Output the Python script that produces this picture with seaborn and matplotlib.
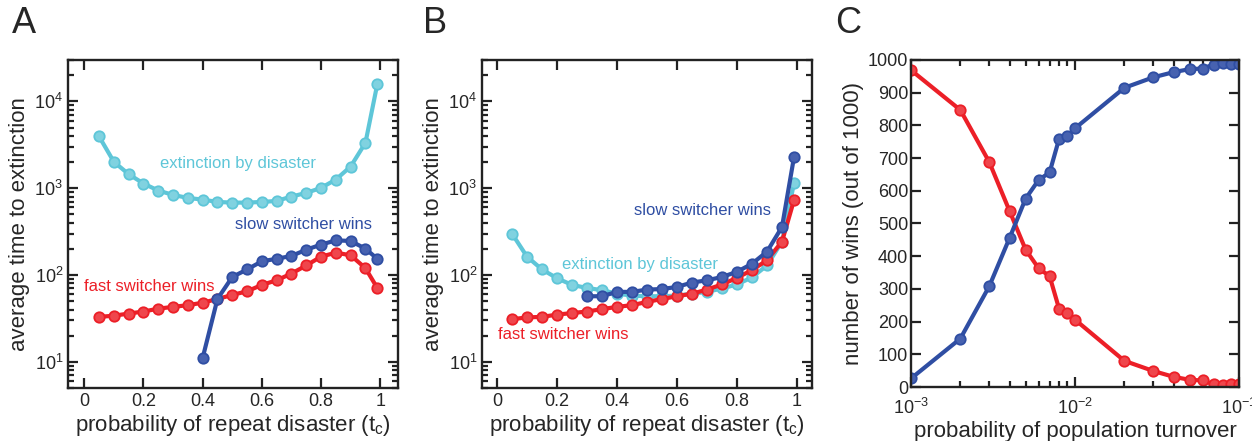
import pandas as pd
import seaborn as sns
import matplotlib.pyplot as plt
import numpy as np
from matplotlib.ticker import LogLocator, NullFormatter, MultipleLocator

# probability of repeat disaster (panel A and B share the x grid)
tc = [0.05, 0.1, 0.15, 0.2, 0.25, 0.3, 0.35, 0.4, 0.45, 0.5,
      0.55, 0.6, 0.65, 0.7, 0.75, 0.8, 0.85, 0.9, 0.95, 0.99]

# panel A
a_disaster = [3945, 2013, 1452, 1133, 940, 838, 773, 740, 695, 683,
              683, 695, 714, 802, 884, 1009, 1259, 1778, 3335, 15800]
a_fast = [33, 34, 36, 38, 41, 43, 45, 48, 53, 59,
          65, 77, 87, 104, 129, 163, 181, 169, 120, 71]
a_slow_tc = [0.4, 0.45, 0.5, 0.55, 0.6, 0.65, 0.7, 0.75, 0.8, 0.85, 0.9, 0.95, 0.99]
a_slow = [11.1, 53, 95, 116, 144, 154, 166, 196, 224, 251, 247, 201, 154]

# panel B
b_disaster = [300, 163, 116, 92, 77, 71, 67, 61, 58, 57,
              57, 58, 61, 64, 70, 78, 94, 129, 243, 1143]
b_fast = [31, 32.5, 33, 35, 36.5, 38, 40.5, 43, 45, 49,
          53, 57, 61, 68, 78, 93, 114, 148, 243, 728]
b_slow_tc = [0.3, 0.35, 0.4, 0.45, 0.5, 0.55, 0.6, 0.65, 0.7, 0.75, 0.8, 0.85, 0.9, 0.95, 0.99]
b_slow = [57, 57, 64, 64, 68, 69, 73, 82, 87, 95, 109, 135, 186, 358, 2280]

# panel C
turnover = [0.001, 0.002, 0.003, 0.004, 0.005, 0.006, 0.007, 0.008, 0.009, 0.01,
            0.02, 0.03, 0.04, 0.05, 0.06, 0.07, 0.08, 0.09, 0.1]
c_slow = [26, 148, 308, 457, 576, 633, 656, 759, 769, 791,
          915, 947, 963, 972, 974, 986, 990, 988, 987]
c_fast = [969, 847, 688, 537, 420, 363, 339, 239, 227, 206,
          80, 49, 31, 22, 20, 8, 7, 10, 10]

CYAN = "#5ec6d8"
BLUE = "#2f4ea3"
RED = "#ec1f27"
LIGHT = {CYAN: "#80d2e0", BLUE: "#4762b0", RED: "#ef464c"}

sns.set_style("ticks")
plt.rcParams['font.family'] = ['Liberation Sans', 'DejaVu Sans']
plt.rcParams['mathtext.fontset'] = 'custom'
plt.rcParams['mathtext.rm'] = 'Liberation Sans'
plt.rcParams['mathtext.it'] = 'Liberation Sans'

LABEL_SIZE = 16
TICK_SIZE = 13
NOTE_SIZE = 12


def draw(ax, x, y, color):
    df = pd.DataFrame({"x": x, "y": y})
    sns.lineplot(data=df, x="x", y="y", ax=ax, color=color, linewidth=3,
                 marker="o", markersize=7.5, markeredgewidth=1.3,
                 markeredgecolor=color, markerfacecolor=LIGHT[color])


def style_axes(ax):
    for s in ax.spines.values():
        s.set_linewidth(1.7)
        s.set_color("#222222")
    ax.tick_params(which="both", direction="in", top=True, right=True,
                   labelsize=TICK_SIZE, width=1.6, color="#222222")
    ax.tick_params(which="major", length=7)
    ax.tick_params(which="minor", length=4)


fig = plt.figure(figsize=(12.52, 4.41), dpi=100)
axA = fig.add_axes([68 / 1252, 1 - 388 / 441, 330 / 1252, 328 / 441])
axB = fig.add_axes([482 / 1252, 1 - 388 / 441, 330 / 1252, 328 / 441])
axC = fig.add_axes([911 / 1252, 1 - 387 / 441, 328 / 1252, 327 / 441])

# panel A
draw(axA, tc, a_disaster, CYAN)
draw(axA, tc, a_fast, RED)
draw(axA, a_slow_tc, a_slow, BLUE)
axA.text(0.52, 1950, "extinction by disaster", color=CYAN, fontsize=NOTE_SIZE, ha="center", va="center")
axA.text(0.74, 380, "slow switcher wins", color=BLUE, fontsize=NOTE_SIZE, ha="center", va="center")
axA.text(0.22, 73, "fast switcher wins", color=RED, fontsize=NOTE_SIZE, ha="center", va="center")
axA.set_xlim(-0.055, 1.06)

# panel B
draw(axB, tc, b_disaster, CYAN)
draw(axB, tc, b_fast, RED)
draw(axB, b_slow_tc, b_slow, BLUE)
axB.text(0.685, 550, "slow switcher wins", color=BLUE, fontsize=NOTE_SIZE, ha="center", va="center")
axB.text(0.475, 134, "extinction by disaster", color=CYAN, fontsize=NOTE_SIZE, ha="center", va="center")
axB.text(0.22, 20.7, "fast switcher wins", color=RED, fontsize=NOTE_SIZE, ha="center", va="center")
axB.set_xlim(-0.05, 1.05)

for ax in (axA, axB):
    ax.set_yscale("log")
    ax.set_ylim(5, 3e4)
    ax.set_xticks([0, 0.2, 0.4, 0.6, 0.8, 1])
    ax.set_xticklabels(["0", "0.2", "0.4", "0.6", "0.8", "1"])
    ax.yaxis.set_major_locator(LogLocator(base=10, numticks=10))
    ax.yaxis.set_minor_locator(LogLocator(base=10, subs=np.arange(2, 10), numticks=10))
    ax.yaxis.set_minor_formatter(NullFormatter())
    ax.set_xlabel(r"probability of repeat disaster (t$_\mathregular{c}$)", fontsize=LABEL_SIZE, labelpad=2)
    ax.set_ylabel("average time to extinction", fontsize=LABEL_SIZE, labelpad=3)
    style_axes(ax)

# panel C
draw(axC, turnover, c_fast, RED)
draw(axC, turnover, c_slow, BLUE)
axC.set_xscale("log")
axC.set_xlim(1e-3, 1e-1)
axC.set_ylim(0, 1000)
axC.yaxis.set_major_locator(MultipleLocator(100))
axC.xaxis.set_minor_locator(LogLocator(base=10, subs=np.arange(2, 10), numticks=10))
axC.xaxis.set_minor_formatter(NullFormatter())
axC.set_xlabel("probability of population turnover", fontsize=LABEL_SIZE, labelpad=2)
axC.set_ylabel("number of wins (out of 1000)", fontsize=LABEL_SIZE, labelpad=3)
style_axes(axC)
axC.tick_params(axis="x", which="major", pad=8)
axC.tick_params(axis="y", which="major", pad=2)

for label, xpos in (("A", 12), ("B", 423), ("C", 835)):
    fig.text(xpos / 1252, 1 - 6 / 441, label, fontsize=26, va="top", ha="left")

plt.savefig("out.png", dpi=100)
